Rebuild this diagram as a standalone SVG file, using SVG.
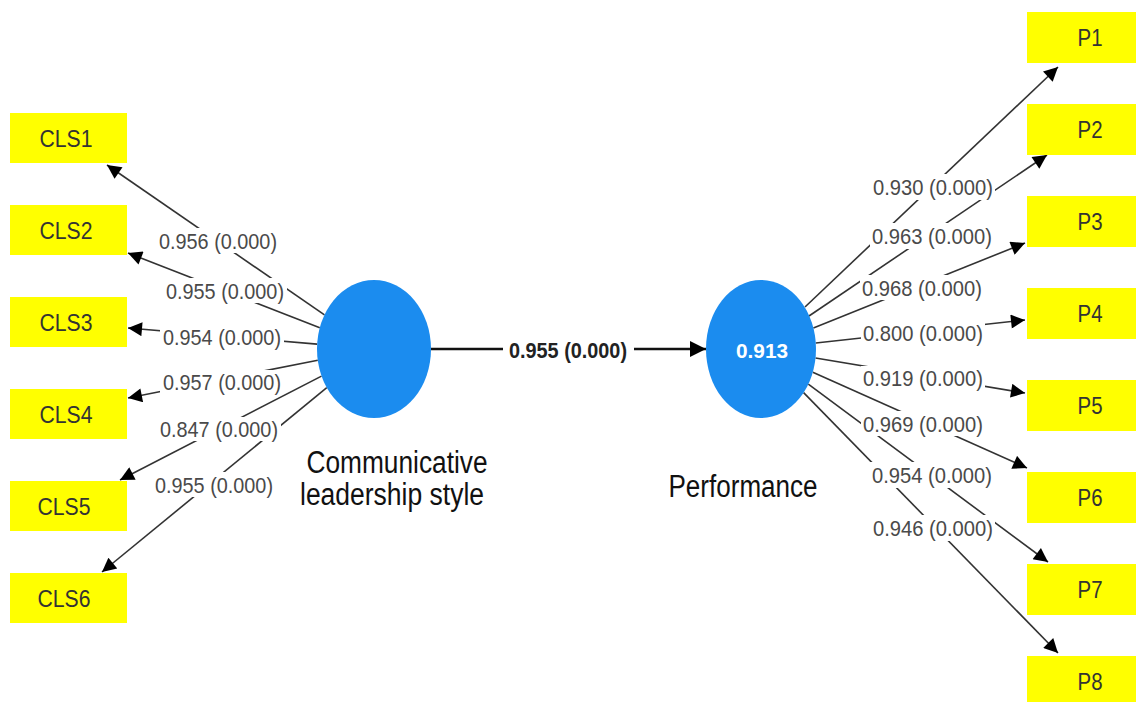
<svg xmlns="http://www.w3.org/2000/svg" width="1136" height="702" viewBox="0 0 1136 702">
  <style>
    .box { fill: #ffff00; }
    .boxtxt { font-family: "Liberation Sans", Arial, sans-serif; font-size: 23px; fill: #333; text-anchor: middle; dominant-baseline: central; }
    .lv { fill: #1b8cef; }
    .lvname { font-family: "Liberation Sans", Arial, sans-serif; font-size: 31px; fill: #111; text-anchor: middle; }
    .r2 { font-family: "Liberation Sans", Arial, sans-serif; font-size: 21px; font-weight: bold; fill: #fff; text-anchor: middle; dominant-baseline: central; }
    .edge { stroke: #333; stroke-width: 1.6; fill: none; marker-end: url(#arrow); }
    .path { stroke: #111; stroke-width: 2.6; fill: none; marker-end: url(#arrowBig); }
    .lblbg { fill: #fff; }
    .lbl { font-family: "Liberation Sans", Arial, sans-serif; font-size: 22px; fill: #4a4a4a; text-anchor: middle; dominant-baseline: central; }
    .lblmain { font-family: "Liberation Sans", Arial, sans-serif; font-size: 22px; font-weight: bold; fill: #222; text-anchor: middle; dominant-baseline: central; }
  </style>
  <defs>
    <marker id="arrow" viewBox="0 0 10 10" refX="10" refY="5" markerWidth="17" markerHeight="14" markerUnits="userSpaceOnUse" orient="auto">
      <path d="M0,0 L10,5 L0,10 z" fill="#000"/>
    </marker>
    <marker id="arrowBig" viewBox="0 0 10 10" refX="10" refY="5" markerWidth="19" markerHeight="16" markerUnits="userSpaceOnUse" orient="auto">
      <path d="M0,0 L10,5 L0,10 z" fill="#000"/>
    </marker>
  </defs>
  <rect width="1136" height="702" fill="#fff"/>

  <!-- connectors: outer model loadings and the structural path -->
  <g id="connectors">
    <line class="edge" x1="324.5" y1="314.9" x2="107" y2="165"/>
    <line class="edge" x1="319.8" y1="327.8" x2="128" y2="253"/>
    <line class="edge" x1="317.1" y1="344.1" x2="128" y2="328"/>
    <line class="edge" x1="317.8" y1="360.2" x2="128" y2="398"/>
    <line class="edge" x1="321.5" y1="376.1" x2="120" y2="480"/>
    <line class="edge" x1="326.8" y1="387.7" x2="102" y2="572"/>

    <line class="edge" x1="805" y1="307" x2="1058" y2="67"/>
    <line class="edge" x1="809" y1="316" x2="1047" y2="155"/>
    <line class="edge" x1="813.4" y1="328" x2="1025" y2="243"/>
    <line class="edge" x1="815.8" y1="343" x2="1025" y2="320"/>
    <line class="edge" x1="815.5" y1="358" x2="1025" y2="393"/>
    <line class="edge" x1="812.8" y1="372.2" x2="1027" y2="468"/>
    <line class="edge" x1="808.3" y1="384.1" x2="1048" y2="562"/>
    <line class="edge" x1="803.6" y1="392.6" x2="1058" y2="653"/>

    <line class="path" x1="431" y1="349" x2="706" y2="349"/>

    <!-- label backgrounds cut the lines underneath -->
    <g>
      <rect class="lblbg" x="156" y="228" width="124" height="25"/>
      <rect class="lblbg" x="163" y="278" width="124" height="25"/>
      <rect class="lblbg" x="160" y="325" width="124" height="24"/>
      <rect class="lblbg" x="160" y="370" width="124" height="24"/>
      <rect class="lblbg" x="157" y="417" width="124" height="24"/>
      <rect class="lblbg" x="152" y="472" width="124" height="25"/>

      <rect class="lblbg" x="871" y="174" width="124" height="26"/>
      <rect class="lblbg" x="870" y="223" width="124" height="26"/>
      <rect class="lblbg" x="860" y="275" width="124" height="25"/>
      <rect class="lblbg" x="861" y="321" width="124" height="24"/>
      <rect class="lblbg" x="861" y="366" width="124" height="24"/>
      <rect class="lblbg" x="861" y="411" width="124" height="25"/>
      <rect class="lblbg" x="870" y="462" width="124" height="26"/>
      <rect class="lblbg" x="871" y="515" width="124" height="26"/>

      <rect class="lblbg" x="503" y="337" width="131" height="25"/>
    </g>
    <g>
      <text class="lbl" x="218" y="241" textLength="118" lengthAdjust="spacingAndGlyphs">0.956 (0.000)</text>
      <text class="lbl" x="225" y="291" textLength="118" lengthAdjust="spacingAndGlyphs">0.955 (0.000)</text>
      <text class="lbl" x="222" y="337" textLength="118" lengthAdjust="spacingAndGlyphs">0.954 (0.000)</text>
      <text class="lbl" x="222" y="382" textLength="118" lengthAdjust="spacingAndGlyphs">0.957 (0.000)</text>
      <text class="lbl" x="219" y="429" textLength="118" lengthAdjust="spacingAndGlyphs">0.847 (0.000)</text>
      <text class="lbl" x="214" y="485" textLength="118" lengthAdjust="spacingAndGlyphs">0.955 (0.000)</text>

      <text class="lbl" x="933" y="187" textLength="120" lengthAdjust="spacingAndGlyphs">0.930 (0.000)</text>
      <text class="lbl" x="932" y="236" textLength="120" lengthAdjust="spacingAndGlyphs">0.963 (0.000)</text>
      <text class="lbl" x="922" y="288" textLength="120" lengthAdjust="spacingAndGlyphs">0.968 (0.000)</text>
      <text class="lbl" x="923" y="333" textLength="120" lengthAdjust="spacingAndGlyphs">0.800 (0.000)</text>
      <text class="lbl" x="923" y="378" textLength="120" lengthAdjust="spacingAndGlyphs">0.919 (0.000)</text>
      <text class="lbl" x="923" y="424" textLength="120" lengthAdjust="spacingAndGlyphs">0.969 (0.000)</text>
      <text class="lbl" x="932" y="475" textLength="120" lengthAdjust="spacingAndGlyphs">0.954 (0.000)</text>
      <text class="lbl" x="933" y="528" textLength="120" lengthAdjust="spacingAndGlyphs">0.946 (0.000)</text>

      <text class="lblmain" x="568" y="350" textLength="118" lengthAdjust="spacingAndGlyphs">0.955 (0.000)</text>
    </g>
  </g>

  <!-- latent variables -->
  <g id="cls">
    <ellipse class="lv" cx="374" cy="349" rx="57" ry="69"/>
    <text class="lvname" x="397" y="473" textLength="181" lengthAdjust="spacingAndGlyphs">Communicative</text>
    <text class="lvname" x="392" y="505" textLength="184" lengthAdjust="spacingAndGlyphs">leadership style</text>
  </g>
  <g id="performance">
    <ellipse class="lv" cx="761" cy="349" rx="55" ry="69"/>
    <text class="r2" x="762" y="350" textLength="52" lengthAdjust="spacingAndGlyphs">0.913</text>
    <text class="lvname" x="743" y="497" textLength="149" lengthAdjust="spacingAndGlyphs">Performance</text>
  </g>

  <!-- indicators of Communicative leadership style -->
  <g id="CLS1"><rect class="box" x="10" y="113" width="117" height="50"/><text class="boxtxt" x="66" y="139" textLength="53" lengthAdjust="spacingAndGlyphs">CLS1</text></g>
  <g id="CLS2"><rect class="box" x="10" y="205" width="117" height="50"/><text class="boxtxt" x="66" y="231" textLength="53" lengthAdjust="spacingAndGlyphs">CLS2</text></g>
  <g id="CLS3"><rect class="box" x="10" y="297" width="117" height="50"/><text class="boxtxt" x="66" y="323" textLength="53" lengthAdjust="spacingAndGlyphs">CLS3</text></g>
  <g id="CLS4"><rect class="box" x="10" y="389" width="117" height="50"/><text class="boxtxt" x="66" y="415" textLength="53" lengthAdjust="spacingAndGlyphs">CLS4</text></g>
  <g id="CLS5"><rect class="box" x="10" y="481" width="117" height="50"/><text class="boxtxt" x="64" y="507" textLength="53" lengthAdjust="spacingAndGlyphs">CLS5</text></g>
  <g id="CLS6"><rect class="box" x="10" y="573" width="117" height="50"/><text class="boxtxt" x="64" y="599" textLength="53" lengthAdjust="spacingAndGlyphs">CLS6</text></g>

  <!-- indicators of Performance -->
  <g id="P1"><rect class="box" x="1027" y="12" width="115" height="51"/><text class="boxtxt" x="1090" y="38" textLength="25" lengthAdjust="spacingAndGlyphs">P1</text></g>
  <g id="P2"><rect class="box" x="1027" y="104" width="115" height="51"/><text class="boxtxt" x="1090" y="130" textLength="25" lengthAdjust="spacingAndGlyphs">P2</text></g>
  <g id="P3"><rect class="box" x="1027" y="196" width="115" height="51"/><text class="boxtxt" x="1090" y="222" textLength="25" lengthAdjust="spacingAndGlyphs">P3</text></g>
  <g id="P4"><rect class="box" x="1027" y="288" width="115" height="51"/><text class="boxtxt" x="1090" y="314" textLength="25" lengthAdjust="spacingAndGlyphs">P4</text></g>
  <g id="P5"><rect class="box" x="1027" y="380" width="115" height="51"/><text class="boxtxt" x="1090" y="406" textLength="25" lengthAdjust="spacingAndGlyphs">P5</text></g>
  <g id="P6"><rect class="box" x="1027" y="472" width="115" height="51"/><text class="boxtxt" x="1090" y="498" textLength="25" lengthAdjust="spacingAndGlyphs">P6</text></g>
  <g id="P7"><rect class="box" x="1027" y="564" width="115" height="51"/><text class="boxtxt" x="1090" y="590" textLength="25" lengthAdjust="spacingAndGlyphs">P7</text></g>
  <g id="P8"><rect class="box" x="1027" y="656" width="115" height="51"/><text class="boxtxt" x="1090" y="682" textLength="25" lengthAdjust="spacingAndGlyphs">P8</text></g>
</svg>
